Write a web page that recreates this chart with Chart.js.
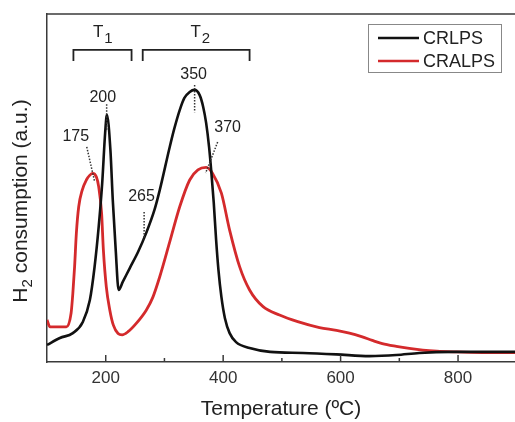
<!DOCTYPE html>
<html><head><meta charset="utf-8">
<script src="https://cdn.jsdelivr.net/npm/chart.js@4.4.1/dist/chart.umd.min.js"></script>
<style>html,body{margin:0;padding:0;background:#fff;}canvas{display:block}</style>
</head><body>
<canvas id="c" width="515" height="422"></canvas>
<script>
// ---- data ----
const seriesNames = ['CRLPS', 'CRALPS'];
const crlpsTemp   = [100,122,144,161,173,181,188,194,199,202,208,212,217,222,229,241,255,269,283,292,309,317,326,334,343,351,360,366,371,376,380,384,388,392,397,403,411,422,445,480,536,593,649,695,734,791,897];
const crlpsSignal = [4.9,6.9,8.3,11.5,17.8,27.3,38.8,51.4,65.8,71.0,60.9,46.6,32.2,20.7,23.0,27.0,31.6,37.1,43.7,49.4,61.8,67.2,72.4,75.9,77.6,78.2,76.7,73.3,68.7,61.8,54.3,45.7,35.1,26.4,18.7,12.6,8.3,5.7,4.0,2.9,2.6,2.2,1.7,2.0,2.6,2.9,2.9];
const cralpsTemp   = [100,105,133,141,144,147,150,154,160,167,173,178,184,188,193,196,201,207,213,221,228,238,252,269,280,292,309,326,343,357,371,382,397,411,428,445,468,496,527,564,593,615,637,654,671,695,717,740,764,798,849,897];
const cralpsSignal = [12.1,10.1,10.1,14.0,19.7,27.4,37.0,44.6,49.4,52.3,53.7,54.2,53.2,50.4,42.7,32.2,21.6,14.9,10.6,8.2,7.8,8.7,11.1,14.9,18.5,24.5,34.5,44.6,52.3,55.2,55.9,54.2,48.5,37.9,27.4,20.7,15.9,13.5,11.6,9.9,9.1,8.3,7.2,6.2,5.3,4.5,3.9,3.4,3.1,2.9,2.7,2.7];
const xTickValues = [200,300,400,500,600,700,800];
const xTickLabels = ['200','','400','','600','','800'];
const peakLabels  = ['175','200','265','350','370'];
const rangeNames  = ['1','2'];          // T1, T2
const rangeBounds = [[145,244],[263,445]];

// ---- layout of annotations (data units) ----
const peakNotePos  = [[149,64.9],[195,76.1],[261,47.4],[349.7,82.5],[407.6,67.5]];
const peakNoteLine = [[[167.7,61.8],[181.3,51.7]],[[201.6,74.1],[201.6,66.7]],[[265.4,43.1],[265.4,35.1]],[[351.4,79.6],[351.4,71.8]],[[390.6,63.2],[370.1,54.3]]];
const rangeLabelPos = [195, 361];

const FONT = "'Liberation Sans', Arial, sans-serif";
const TXT = '#222';
const FRAME = '#3a3a3a';

const toPts = (xs, ys) => xs.map((t, i) => ({x: t, y: ys[i]}));

const decor = {
  id: 'decor',
  afterDatasetsDraw(chart) {
    const {ctx, chartArea: a, scales: {x, y}} = chart;
    ctx.save();
    // dotted pointer lines + labels
    ctx.strokeStyle = '#333';
    ctx.lineWidth = 1.5;
    ctx.setLineDash([1.5, 1.5]);
    peakNoteLine.forEach(seg => {
      ctx.beginPath();
      ctx.moveTo(x.getPixelForValue(seg[0][0]), y.getPixelForValue(seg[0][1]));
      ctx.lineTo(x.getPixelForValue(seg[1][0]), y.getPixelForValue(seg[1][1]));
      ctx.stroke();
    });
    ctx.setLineDash([]);
    ctx.fillStyle = TXT;
    ctx.font = '16px ' + FONT;
    ctx.textAlign = 'center';
    ctx.textBaseline = 'middle';
    peakLabels.forEach((t, i) => {
      ctx.fillText(t, x.getPixelForValue(peakNotePos[i][0]), y.getPixelForValue(peakNotePos[i][1]));
    });
    // brackets
    ctx.strokeStyle = '#222';
    ctx.lineWidth = 1.8;
    rangeBounds.forEach((r, i) => {
      const x0 = x.getPixelForValue(r[0]), x1 = x.getPixelForValue(r[1]);
      const yt = y.getPixelForValue(89.7), yb = y.getPixelForValue(86.5);
      ctx.beginPath();
      ctx.moveTo(x0, yb); ctx.lineTo(x0, yt); ctx.lineTo(x1, yt); ctx.lineTo(x1, yb);
      ctx.stroke();
      // label T with subscript
      ctx.textAlign = 'left';
      ctx.textBaseline = 'alphabetic';
      ctx.font = '17px ' + FONT;
      const wT = ctx.measureText('T').width;
      ctx.font = '15px ' + FONT;
      const wS = ctx.measureText(rangeNames[i]).width;
      const cx = x.getPixelForValue(rangeLabelPos[i]);
      const by = y.getPixelForValue(93.4);
      const sx = cx - (wT + wS + 1) / 2;
      ctx.font = '17px ' + FONT;
      ctx.fillText('T', sx, by);
      ctx.font = '15px ' + FONT;
      ctx.fillText(rangeNames[i], sx + wT + 1, by + 6);
    });
    ctx.restore();
  },
  afterDraw(chart) {
    const {ctx, chartArea: a, scales: {x}} = chart;
    ctx.save();
    // top frame
    ctx.strokeStyle = FRAME;
    ctx.lineWidth = 1.5;
    ctx.beginPath(); ctx.moveTo(a.left, a.top); ctx.lineTo(a.right, a.top); ctx.stroke();
    // inward ticks
    xTickValues.forEach((v, i) => {
      const px = x.getPixelForValue(v);
      const len = xTickLabels[i] ? 7 : 4;
      ctx.beginPath(); ctx.moveTo(px, a.bottom); ctx.lineTo(px, a.bottom - len); ctx.stroke();
    });
    // legend
    const lx = a.right - 147, ly = a.top + 10, lw = 133, lh = 48;
    ctx.strokeStyle = '#888';
    ctx.lineWidth = 1;
    ctx.strokeRect(lx + 0.5, ly + 0.5, lw, lh);
    ctx.font = '18px ' + FONT;
    ctx.textAlign = 'left';
    ctx.textBaseline = 'middle';
    chart.data.datasets.forEach((ds, i) => {
      const yy = ly + 14 + i * 23;
      ctx.strokeStyle = ds.borderColor;
      ctx.lineWidth = 2.6;
      ctx.beginPath(); ctx.moveTo(lx + 10, yy); ctx.lineTo(lx + 51, yy); ctx.stroke();
      ctx.fillStyle = TXT;
      ctx.fillText(ds.label, lx + 55, yy + 1);
    });
    // y title with subscript
    ctx.translate(27, 201);
    ctx.rotate(-Math.PI / 2);
    ctx.textBaseline = 'alphabetic';
    ctx.fillStyle = TXT;
    const big = '21px ' + FONT, small = '15px ' + FONT;
    ctx.font = big; const wH = ctx.measureText('H').width;
    const rest = ' consumption (a.u.)';
    const wR = ctx.measureText(rest).width;
    ctx.font = small; const w2 = ctx.measureText('2').width;
    let sx = -(wH + w2 + wR) / 2;
    ctx.font = big; ctx.fillText('H', sx, 0);
    ctx.font = small; ctx.fillText('2', sx + wH, 5);
    ctx.font = big; ctx.fillText(rest, sx + wH + w2, 0);
    ctx.restore();
  }
};

new Chart(document.getElementById('c'), {
  type: 'line',
  data: {
    datasets: [
      {label: seriesNames[0], data: toPts(crlpsTemp, crlpsSignal), borderColor: '#111111', borderWidth: 2.6, pointRadius: 0, cubicInterpolationMode: 'monotone', fill: false},
      {label: seriesNames[1], data: toPts(cralpsTemp, cralpsSignal), borderColor: '#d42a2c', borderWidth: 2.8, pointRadius: 0, cubicInterpolationMode: 'monotone', fill: false}
    ]
  },
  options: {
    responsive: false,
    devicePixelRatio: 1,
    animation: false,
    layout: {padding: {top: 14, right: 0, left: 0, bottom: 0}},
    plugins: {legend: {display: false}, tooltip: {enabled: false}},
    scales: {
      x: {
        type: 'linear', min: 100, max: 897,
        afterBuildTicks: s => { s.ticks = xTickValues.map(v => ({value: v})); },
        afterFit: s => { s.height = 60; },
        grid: {display: false, drawTicks: false},
        border: {display: true, color: FRAME, width: 1.5},
        ticks: {
          padding: 6, color: '#333', font: {family: FONT, size: 17}, maxRotation: 0, autoSkip: false,
          callback: (v, i) => xTickLabels[i]
        },
        title: {display: true, text: 'Temperature (ºC)', color: TXT, font: {family: FONT, size: 21}, padding: {top: 0, bottom: 0}}
      },
      y: {
        min: 0, max: 100,
        afterFit: s => { s.width = 47; },
        grid: {display: false, drawTicks: false},
        border: {display: true, color: FRAME, width: 1.5},
        ticks: {display: false}
      }
    }
  },
  plugins: [decor]
});
</script>
</body></html>
